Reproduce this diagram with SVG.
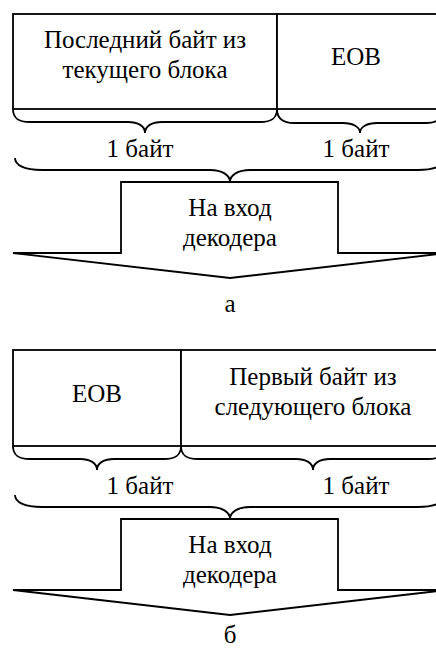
<svg xmlns="http://www.w3.org/2000/svg" width="436" height="649" viewBox="0 0 436 649">
<style>
.s{fill:none;stroke:#000;stroke-width:1.8;stroke-linejoin:miter}
.b{fill:#fff;stroke:#000;stroke-width:1.8}
</style>
<rect width="436" height="649" fill="#fff"/>
<g font-family="Liberation Serif, DejaVu Serif, serif" font-size="25" text-anchor="middle" fill="#000">
<!-- Diagram a -->
<g id="a-box-last">
<rect class="b" x="13" y="14" width="264" height="95"/>
<text x="145" y="48">Последний байт из</text>
<text x="145" y="78">текущего блока</text>
</g>
<g id="a-box-eob">
<rect class="b" x="277" y="14" width="168" height="95"/>
<text x="356" y="65">EOB</text>
</g>
<g id="a-braces">
<path class="s" d="M13 109 C13 118 18 122 30 122 L128 122 C138 122 145 126 145 133 C145 126 152 122 162 122 L260 122 C272 122 277 118 277 109"/>
<path class="s" d="M277 109 C277 118 282 123 294 123 L343 123 C353 123 360 127 360 133 C360 127 367 123 377 123 L426 123 C438 123 443 118 443 109"/>
<text x="140" y="157">1 байт</text>
<text x="356" y="157">1 байт</text>
<path class="s" d="M15 158 C15 165 24 170 42 170 L210 170 C222 170 230 175 230 182 C230 175 238 170 250 170 L418 170 C436 170 445 165 445 158"/>
</g>
<g id="a-arrow">
<polygon class="b" points="121,182 338,182 338,253 447,253 230,278 13,253 121,253"/>
<text x="230" y="216">На вход</text>
<text x="230" y="246">декодера</text>
</g>
<text x="230" y="312">а</text>
<!-- Diagram b -->
<g id="b-box-eob">
<rect class="b" x="13" y="350" width="168" height="96"/>
<text x="97" y="402">EOB</text>
</g>
<g id="b-box-first">
<rect class="b" x="181" y="350" width="264" height="96"/>
<text x="313" y="385">Первый байт из</text>
<text x="313" y="415">следующего блока</text>
</g>
<g id="b-braces">
<path class="s" d="M13 446 C13 455 18 459 30 459 L80 459 C90 459 97 463 97 470 C97 463 104 459 114 459 L164 459 C176 459 181 455 181 446"/>
<path class="s" d="M181 446 C181 455 186 459 198 459 L296 459 C306 459 313 463 313 470 C313 463 320 459 330 459 L428 459 C440 459 445 455 445 446"/>
<text x="140" y="494">1 байт</text>
<text x="356" y="494">1 байт</text>
<path class="s" d="M15 495 C15 502 24 507 42 507 L210 507 C222 507 230 512 230 519 C230 512 238 507 250 507 L418 507 C436 507 445 502 445 495"/>
</g>
<g id="b-arrow">
<polygon class="b" points="121,519 338,519 338,590 447,590 230,615 13,590 121,590"/>
<text x="230" y="553">На вход</text>
<text x="230" y="583">декодера</text>
</g>
<text x="230" y="643">б</text>
</g>
</svg>
